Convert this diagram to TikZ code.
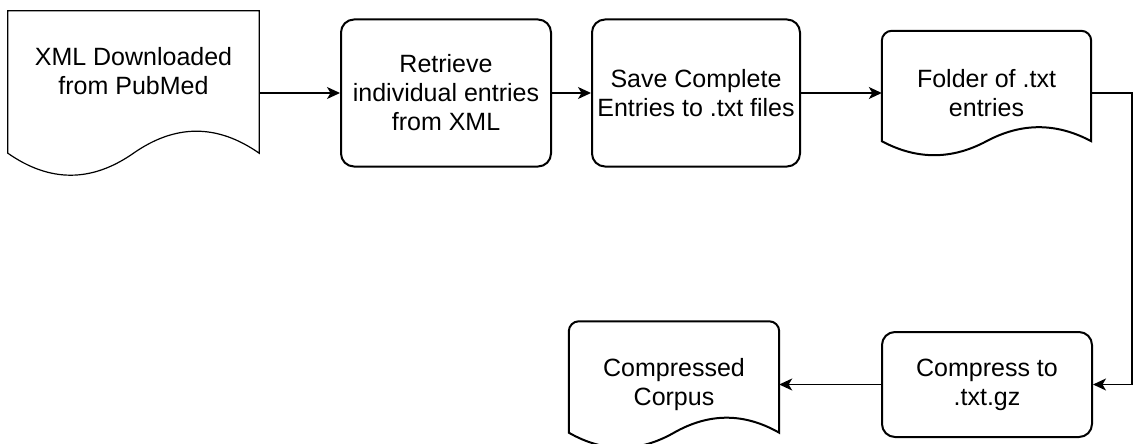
\documentclass[tikz,border=0pt]{standalone}
\usepackage{fontspec}
\setmainfont{Liberation Sans}
\usetikzlibrary{arrows.meta,calc}

% outline of a document shape around an (empty) node
\newcommand{\docoutline}[4]{%
  \draw[#1] ($(#2.south west)+(0,-#3)$) [#4] -- (#2.north west) -- (#2.north east) [sharp corners]
    -- ($(#2.south east)+(0,-#3)$)
    .. controls ($(#2.south west)!0.833!(#2.south east)+(0,-7*#3/3)$) and ($(#2.south west)!0.667!(#2.south east)+(0,-7*#3/3)$) .. ($(#2.south)+(0,-#3)$)
    .. controls ($(#2.south west)!0.333!(#2.south east)+(0,#3/3)$) and ($(#2.south west)!0.167!(#2.south east)+(0,#3/3)$) .. ($(#2.south west)+(0,-#3)$)
    -- cycle;
}

\begin{document}
\begin{tikzpicture}[x=1pt,y=-1pt,
    txt/.style={font=\fontsize{25}{29}\selectfont,align=center},
    procbox/.style={txt,draw,line width=2pt,rounded corners=13pt,minimum width=210pt,inner sep=0pt},
    docbox/.style={txt,inner sep=0pt},
    flow/.style={line width=1.3pt,-{Stealth[length=13pt,width=12pt,inset=3.5pt]}}]
  \useasboundingbox (0,0) rectangle (1135,444);
  % top row
  \node[docbox,minimum width=251pt,minimum height=164pt] (xml) at (133.5,93) {};
  \node[txt] (xmltext) at (133.5,71) {XML Downloaded\\from PubMed};
  \node[procbox,minimum height=147pt] (retrieve) at (446,93) {Retrieve\\individual entries\\from XML};
  \node[procbox,minimum width=208pt,minimum height=147pt] (save) at (696,93) {Save Complete\\Entries to .txt files};
  \node[docbox,minimum width=209pt,minimum height=124pt] (folder) at (986.5,93) {Folder of .txt\\entries};
  % bottom row
  \node[procbox,minimum height=105pt] (compress) at (987,384.5) {Compress to\\.txt.gz};
  \node[docbox,minimum width=210pt,minimum height=126pt] (corpus) at (674,384.5) {Compressed\\Corpus};
  \coordinate (bend) at (1132,93);

  \docoutline{line width=1.2pt}{xml}{22}{sharp corners}
  \docoutline{line width=2pt}{folder}{14}{rounded corners=10pt}
  \docoutline{line width=2pt}{corpus}{15}{rounded corners=10pt}

  \begin{scope}[flow]
    \draw (xml.east) -- (retrieve.west);
    \draw (retrieve) -- (save);
    \draw (save) -- (folder);
    \draw (folder.east) -- (bend) |- (compress.east);
    \draw (compress) -- (corpus);
  \end{scope}
\end{tikzpicture}
\end{document}
